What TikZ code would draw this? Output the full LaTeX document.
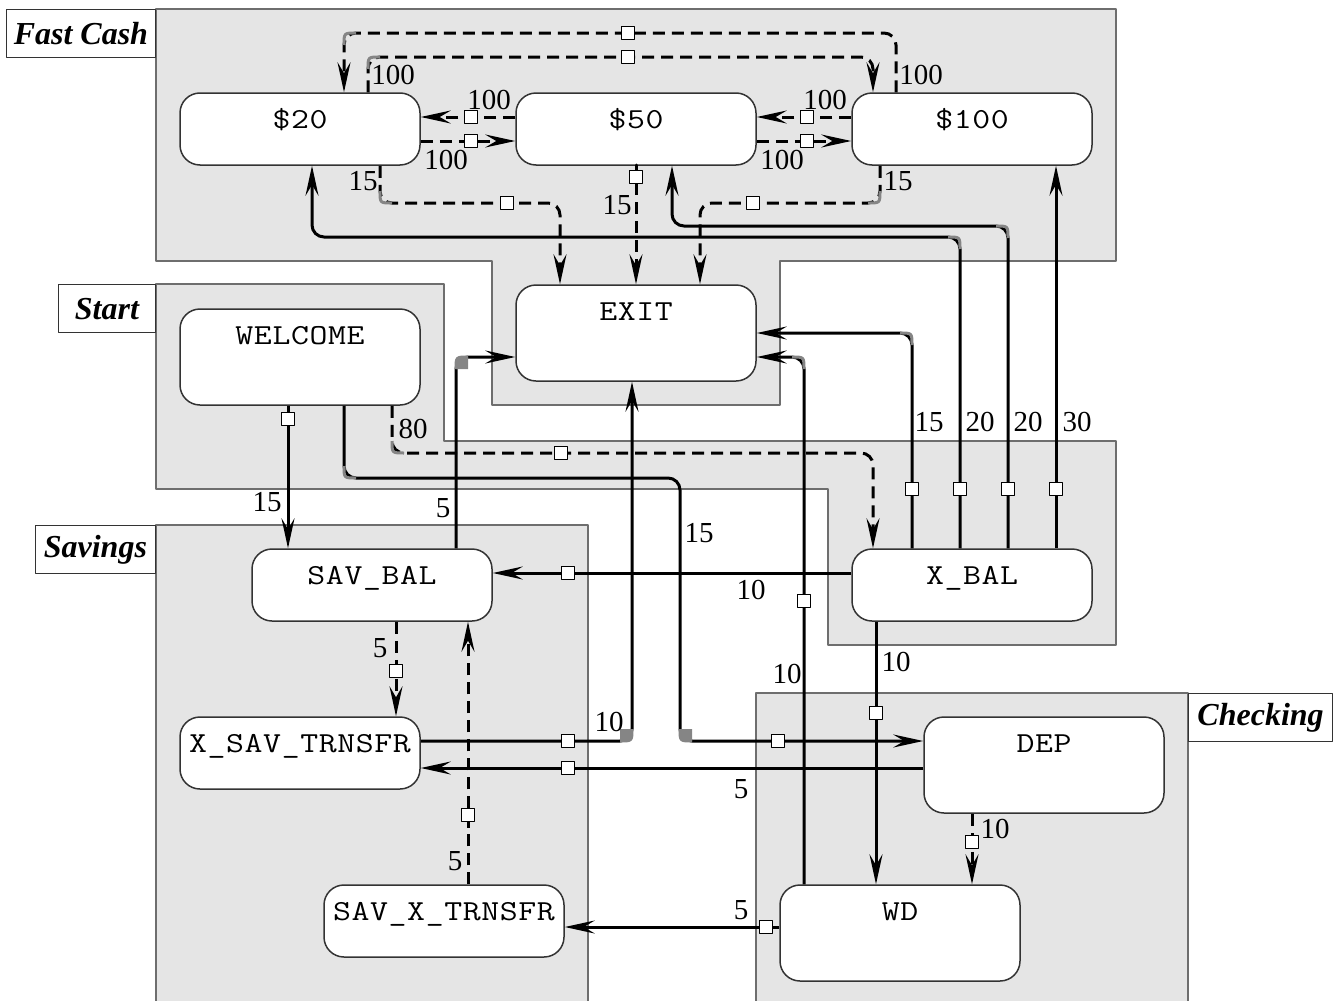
\documentclass[tikz,border=0pt]{standalone}
\usepackage{fontspec}
\setmainfont{Liberation Serif}
\usetikzlibrary{arrows.meta}
\definecolor{regionfill}{HTML}{E5E5E5}
\definecolor{regionline}{HTML}{6E6E6E}
\definecolor{nodeline}{HTML}{333333}
\definecolor{cornergray}{HTML}{858585}
% widen the letters of a state name
\makeatletter
\newcommand\stxt[1]{\scalebox{1.2}[1]{\@tfor\stchar:=#1\do{\stchar\kern0.5pt}\kern-0.5pt}}
\makeatother
\begin{document}
\begin{tikzpicture}[x=1pt,y=-1pt,line join=round,>={Stealth[length=30pt,width=13pt,inset=11pt]}]
	\tikzset{region/.style={fill=regionfill,draw=regionline,line width=1.5pt},
		title/.style={draw=nodeline,fill=white,line width=1.2pt,minimum height=48pt,inner xsep=4pt,font=\fontsize{32}{32}\selectfont\bfseries\itshape},
		state/.style={draw=nodeline,fill=white,line width=1.5pt,rounded corners=20pt,minimum width=240pt,inner xsep=0pt,inner ysep=0pt,text height=35pt,text depth=37pt,font=\ttfamily\fontsize{29}{29}\selectfont},
		tallstate/.style={state,text depth=61pt},
		trans/.style={->,line width=3pt,rounded corners=12pt},
		dtrans/.style={trans,dash pattern=on 12pt off 7pt},
		sq/.style={rectangle,solid,sharp corners,draw=black,fill=white,line width=1.2pt,minimum size=13pt,inner sep=0pt},
		prob/.style={inner sep=0pt,font=\fontsize{29}{29}\selectfont},
		graycorner/.style={draw=cornergray,line width=3pt,solid}}
	%% page
	\useasboundingbox (0,0) rectangle (1341,1001);
	\clip (0,0) rectangle (1341,1001);
	%% the four regions
	\draw[region] (156,9) -- (1116,9) -- (1116,261) -- (780,261) -- (780,405) -- (492,405) -- (492,261) -- (156,261) -- cycle;
	\draw[region] (156,284) -- (444,284) -- (444,441) -- (1116,441) -- (1116,645) -- (828,645) -- (828,489) -- (156,489) -- cycle;
	\draw[region] (156,525) rectangle (588,1010);
	\draw[region] (756,693) rectangle (1188,1010);
	\node[title,anchor=north east,minimum width=149pt] (tfast) at (156,9) {Fast Cash};
	\node[title,anchor=north east,minimum width=97pt] (tstart) at (156,284) {Start};
	\node[title,anchor=north east,minimum width=120pt] (tsav) at (156,525) {Savings};
	\node[title,anchor=north west,minimum width=144pt] (tcheck) at (1188,693) {Checking};
	%% states
	\node[state] (s20) at (300,129) {\stxt{\$20}};
	\node[state] (s50) at (636,129) {\stxt{\$50}};
	\node[state] (s100) at (972,129) {\stxt{\$100}};
	\node[tallstate] (welcome) at (300,357) {\stxt{WELCOME}};
	\node[tallstate] (exit) at (636,333) {\stxt{EXIT}};
	\node[state] (savbal) at (372,585) {\stxt{SAV\_BAL}};
	\node[state] (xbal) at (972,585) {\stxt{X\_BAL}};
	\node[state] (xsav) at (300,753) {\stxt{X\_SAV\_TRNSFR}};
	\node[state] (savx) at (444,921) {\stxt{SAV\_X\_TRNSFR}};
	\node[tallstate] (dep) at (1044,765) {\stxt{DEP}};
	\node[tallstate] (wd) at (900,933) {\stxt{WD}};
	%% fast cash transitions
	\draw[dtrans] ([xshift=68pt]s20.north) |- (628,57) node[sq] (m1) {} -| ([xshift=-99pt]s100.north);
	\draw[dtrans] ([xshift=-76pt]s100.north) |- (628,33) node[sq] (m2) {} -| ([xshift=44pt]s20.north);
	\draw[dtrans] ([yshift=12pt]s50.west) -- (471,117) node[sq] (m3) {} -- ([yshift=12pt]s20.east);
	\draw[dtrans] ([yshift=-12pt]s20.east) -- (471,141) node[sq] (m4) {} -- ([yshift=-12pt]s50.west);
	\draw[dtrans] ([yshift=12pt]s100.west) -- (807,117) node[sq] (m5) {} -- ([yshift=12pt]s50.east);
	\draw[dtrans] ([yshift=-12pt]s50.east) -- (807,141) node[sq] (m6) {} -- ([yshift=-12pt]s100.west);
	\draw[dtrans] ([xshift=80pt]s20.south) |- (507,203) node[sq] (m7) {} -| ([xshift=-76pt]exit.north);
	\draw[dtrans] (s50.south) -- (636,177) node[sq] (m8) {} -- (exit.north);
	\draw[dtrans] ([xshift=-92pt]s100.south) |- (753,203) node[sq] (m9) {} -| ([xshift=64pt]exit.north);
	%% out of X_BAL
	\draw[trans] ([xshift=-12pt]xbal.north) -- (960,489) node[sq] (m10) {} |- (312,237) -- ([xshift=12pt]s20.south);
	\draw[trans] ([xshift=36pt]xbal.north) -- (1008,489) node[sq] (m11) {} |- (672,226) -- ([xshift=36pt]s50.south);
	\draw[trans] ([xshift=84pt]xbal.north) -- (1056,489) node[sq] (m12) {} -- ([xshift=84pt]s100.south);
	\draw[trans] ([xshift=-60pt]xbal.north) -- (912,489) node[sq] (m13) {} |- (exit.east);
	\draw[trans] ([yshift=12pt]xbal.west) -- (568,573) node[sq] (m17) {} -- ([yshift=12pt]savbal.east);
	\draw[trans] ([xshift=-96pt]xbal.south) -- (876,713) node[sq] (m18) {} -- ([xshift=-24pt]wd.north);
	%% out of WELCOME
	\draw[trans] ([xshift=-12pt]welcome.south) -- (288,419) node[sq] (m14) {} -- ([xshift=-84pt]savbal.north);
	\draw[trans] ([xshift=44pt]welcome.south) |- (680,478) |- (778,741) node[sq] (m15) {} -- ([yshift=24pt]dep.west);
	\draw[dtrans] ([xshift=92pt]welcome.south) |- (561,453) node[sq] (m16) {} -| ([xshift=-99pt]xbal.north);
	%% savings and checking
	\draw[trans] ([xshift=-96pt]wd.north) -- (804,601) node[sq] (m19) {} |- ([yshift=-24pt]exit.east);
	\draw[trans] ([yshift=-3pt]dep.west) -- (568,768) node[sq] (m20) {} -- ([yshift=-15pt]xsav.east);
	\draw[dtrans] ([xshift=-72pt]dep.south) -- (972,842) node[sq] (m21) {} -- ([xshift=72pt]wd.north);
	\draw[trans] ([yshift=6pt]wd.west) -- (766,927) node[sq] (m22) {} -- ([yshift=-6pt]savx.east);
	\draw[dtrans] ([xshift=24pt]savbal.south) -- (396,671) node[sq] (m23) {} -- ([xshift=96pt]xsav.north);
	\draw[dtrans] ([xshift=24pt]savx.north) -- (468,815) node[sq] (m24) {} -- ([xshift=96pt]savbal.south);
	\draw[trans] ([xshift=84pt]savbal.north) |- ([yshift=-24pt]exit.west);
	\draw[trans] ([yshift=12pt]xsav.east) -- (568,741) node[sq] (m26) {} -| ([xshift=-4pt]exit.south);
	%% grey corners
	\draw[graycorner] (368,69) .. controls (368,57) .. (380,57);
	\draw[graycorner] (356,33) .. controls (344,33) .. (344,45);
	\draw[graycorner] (380,191) .. controls (380,203) .. (392,203);
	\draw[graycorner] (880,191) .. controls (880,203) .. (868,203);
	\draw[graycorner] (960,249) .. controls (960,237) .. (948,237);
	\draw[graycorner] (1008,238) .. controls (1008,226) .. (996,226);
	\draw[graycorner] (912,345) .. controls (912,333) .. (900,333);
	\draw[graycorner] (344,466) .. controls (344,478) .. (356,478);
	\draw[graycorner] (392,441) .. controls (392,453) .. (404,453);
	\draw[graycorner] (804,369) .. controls (804,357) .. (792,357);
	\fill[cornergray] (468,369) -- (456,369) .. controls (456,357) .. (468,357) -- cycle;
	\draw[graycorner] (456,369) .. controls (456,357) .. (468,357);
	\fill[cornergray] (620,729) -- (620,741) .. controls (632,741) .. (632,729) -- cycle;
	\draw[graycorner] (620,741) .. controls (632,741) .. (632,729);
	\fill[cornergray] (692,729) -- (680,729) .. controls (680,741) .. (692,741) -- cycle;
	\draw[graycorner] (680,729) .. controls (680,741) .. (692,741);
	%% numbers
	\node[prob] (p1) at (393,75) {100};
	\node[prob] (p2) at (921,75) {100};
	\node[prob] (p3) at (489,100) {100};
	\node[prob] (p4) at (446,160) {100};
	\node[prob] (p5) at (825,100) {100};
	\node[prob] (p6) at (782,160) {100};
	\node[prob] (p7) at (363,181) {15};
	\node[prob] (p8) at (617,205) {15};
	\node[prob] (p9) at (898,181) {15};
	\node[prob] (p10) at (980,422) {20};
	\node[prob] (p11) at (1028,422) {20};
	\node[prob] (p12) at (1077,422) {30};
	\node[prob] (p13) at (929,422) {15};
	\node[prob] (p14) at (267,502) {15};
	\node[prob] (p15) at (699,533) {15};
	\node[prob] (p16) at (413,429) {80};
	\node[prob] (p17) at (751,590) {10};
	\node[prob] (p18) at (896,662) {10};
	\node[prob] (p19) at (787,674) {10};
	\node[prob] (p20) at (741,789) {5};
	\node[prob] (p21) at (995,829) {10};
	\node[prob] (p22) at (741,910) {5};
	\node[prob] (p23) at (380,648) {5};
	\node[prob] (p24) at (455,861) {5};
	\node[prob] (p25) at (443,508) {5};
	\node[prob] (p26) at (609,722) {10};
\end{tikzpicture}
\end{document}
